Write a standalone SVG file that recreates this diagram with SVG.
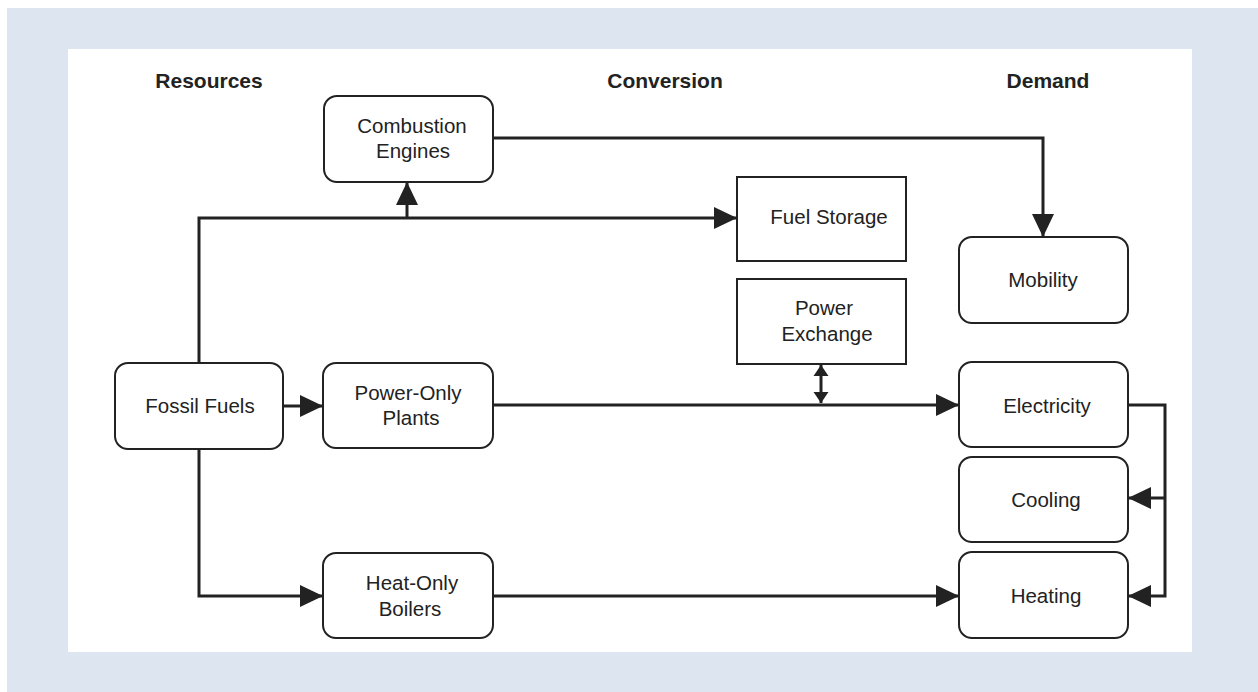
<svg xmlns="http://www.w3.org/2000/svg" width="1258" height="692" viewBox="0 0 1258 692">
<defs>
<style>
.node{fill:#fff;stroke:#222;stroke-width:2}
.lbl{font-family:"Liberation Sans",Arial,sans-serif;font-size:20.5px;fill:#222;text-anchor:middle}
.hdr{font-family:"Liberation Sans",Arial,sans-serif;font-size:21px;font-weight:bold;fill:#222;text-anchor:middle}
.con{fill:none;stroke:#222;stroke-width:3}
</style>
<marker id="ah" markerUnits="userSpaceOnUse" markerWidth="24" markerHeight="24" refX="23" refY="12" orient="auto">
<path d="M0,1 L23,12 L0,23 Z" fill="#222"/>
</marker>
<marker id="sh" markerUnits="userSpaceOnUse" markerWidth="12" markerHeight="16" refX="11" refY="8" orient="auto-start-reverse">
<path d="M0,0.5 L11,8 L0,15.5 Z" fill="#222"/>
</marker>
</defs>
<rect x="0" y="0" width="1258" height="692" fill="#fff"/>
<rect x="7" y="8" width="1251" height="684" fill="#dce5f0"/>
<rect x="68" y="49" width="1124" height="603" fill="#fff"/>

<text class="hdr" x="209" y="88">Resources</text>
<text class="hdr" x="665" y="88">Conversion</text>
<text class="hdr" x="1048" y="88">Demand</text>

<g id="connectors">
<path class="con" d="M199,363 V218 H737" marker-end="url(#ah)"/>
<path class="con" d="M407,218 V182" marker-end="url(#ah)"/>
<path class="con" d="M493,138 H1043 V237" marker-end="url(#ah)"/>
<path class="con" d="M283,406 H323" marker-end="url(#ah)"/>
<path class="con" d="M493,405 H959" marker-end="url(#ah)"/>
<path class="con" d="M821,365 V403" marker-start="url(#sh)" marker-end="url(#sh)"/>
<path class="con" d="M199,449 V596 H323" marker-end="url(#ah)"/>
<path class="con" d="M493,596 H959" marker-end="url(#ah)"/>
<path class="con" d="M1128,405 H1165 V596 H1128" marker-end="url(#ah)"/>
<path class="con" d="M1165,498 H1128" marker-end="url(#ah)"/>
</g>

<g id="combustion-engines">
<rect class="node" x="324" y="96" width="169" height="86" rx="13"/>
<text class="lbl" x="412" y="133">Combustion</text>
<text class="lbl" x="413" y="158">Engines</text>
</g>
<g id="fuel-storage">
<rect class="node" x="737" y="177" width="169" height="84"/>
<text class="lbl" x="829" y="224">Fuel Storage</text>
</g>
<g id="power-exchange">
<rect class="node" x="737" y="279" width="169" height="85"/>
<text class="lbl" x="824" y="315">Power</text>
<text class="lbl" x="827" y="341">Exchange</text>
</g>
<g id="mobility">
<rect class="node" x="959" y="237" width="169" height="86" rx="13"/>
<text class="lbl" x="1043" y="287">Mobility</text>
</g>
<g id="fossil-fuels">
<rect class="node" x="115" y="363" width="168" height="86" rx="13"/>
<text class="lbl" x="200" y="413">Fossil Fuels</text>
</g>
<g id="power-only-plants">
<rect class="node" x="323" y="363" width="170" height="85" rx="13"/>
<text class="lbl" x="408" y="400">Power-Only</text>
<text class="lbl" x="411" y="425">Plants</text>
</g>
<g id="electricity">
<rect class="node" x="959" y="362" width="169" height="85" rx="13"/>
<text class="lbl" x="1047" y="413">Electricity</text>
</g>
<g id="cooling">
<rect class="node" x="959" y="457" width="169" height="85" rx="13"/>
<text class="lbl" x="1046" y="507">Cooling</text>
</g>
<g id="heat-only-boilers">
<rect class="node" x="323" y="553" width="170" height="85" rx="13"/>
<text class="lbl" x="412" y="590">Heat-Only</text>
<text class="lbl" x="410" y="616">Boilers</text>
</g>
<g id="heating">
<rect class="node" x="959" y="552" width="169" height="86" rx="13"/>
<text class="lbl" x="1046" y="603">Heating</text>
</g>
</svg>
